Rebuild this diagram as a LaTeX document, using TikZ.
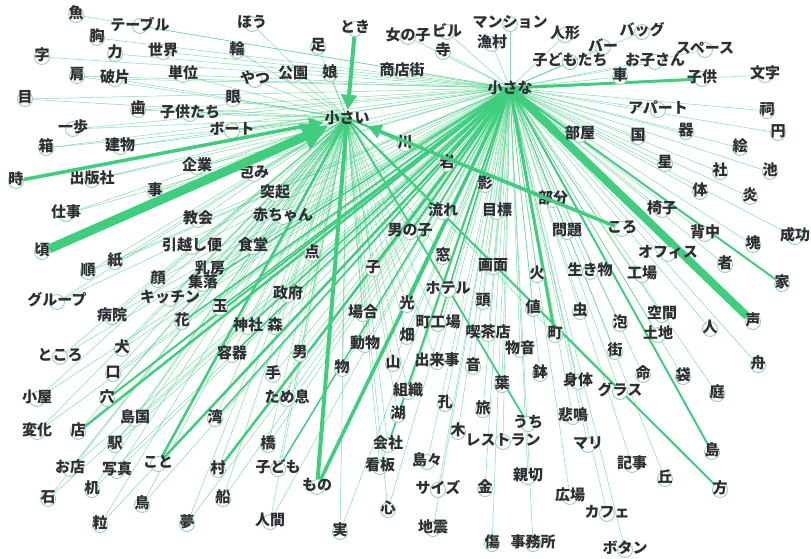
\documentclass[tikz,border=0pt]{standalone}
\usepackage{fontspec}
\setmainfont{Noto Sans CJK JP}
\usetikzlibrary{arrows.meta,backgrounds}
\definecolor{edgegreen}{RGB}{62,206,126}
\definecolor{dotline}{RGB}{150,210,172}
\definecolor{wordgray}{RGB}{45,47,53}
\tikzset{
  dot/.style={circle, draw=dotline, fill=white, line width=0.9pt, minimum size=15pt, inner sep=0pt},
  word/.style={text=wordgray, font=\fontsize{15}{15}\selectfont\bfseries, inner sep=0pt},
  hub/.style={word, inner sep=1pt},
  link/.style={edgegreen, line width=0.55pt, opacity=0.6},
  heavy/.style={edgegreen, line width=#1},
  tip/.style={-{Triangle[length=#1, width=#1]}},
}
\begin{document}
\begin{tikzpicture}[x=1pt, y=-1pt]
        \useasboundingbox (0,0) rectangle (811,558);
        \begin{scope}[on background layer]
        \fill[white] (0,0) rectangle (811,558);
        \end{scope}

        % the two adjectives
        \node[hub] (chiisai) at (347,118) {小さい};
        \node[hub] (chiisana) at (510,88) {小さな};

        % nouns
        \foreach \n/\x/\y/\w in {
            sakana/76/13/魚, teeburu/140/24/テーブル, mune/97/36/胸, hou/252/22/ほう,
            toki/355/27/とき, onnanoko/408/35/女の子, biru/447/30/ビル, manshon/510/22/マンション,
            tera/443/50/寺, gyoson/492/42/漁村, ningyou/565/33/人形, baggu/642/30/バッグ,
            baa/603/45/バー, supeesu/705/48/スペース, kodomotachiH/570/60/子どもたち, okosan/655/60/お子さん,
            moji/765/73/文字, kuruma/620/75/車, kodomoK/702/77/子供, ji/42/55/字,
            chikara/115/52/力, sekai/163/50/世界, wa/237/49/輪, ashi/318/45/足,
            kata/77/74/肩, hahen/115/77/破片, tani/183/73/単位, yatsu/255/78/やつ,
            kouen/293/73/公園, musume/330/72/娘, shoutengai/402/70/商店街, me/25/97/目,
            manako/233/97/眼, ha/138/108/歯, kodomotachiK/190/112/子供たち, apaato/658/108/アパート,
            hokora/767/109/祠, ippo/73/127/一歩, booto/232/129/ボート, en/778/131/円,
            utsuwa/686/130/器, heya/580/133/部屋, kuni/638/135/国, hako/46/146/箱,
            tatemono/120/145/建物, kawa/405/142/川, e/740/146/絵, tokiK/16/179/時,
            shuppansha/92/178/出版社, kigyou/197/165/企業, tsutsumi/254/172/包み, iwa/447/162/岩,
            hoshi/665/162/星, yashiro/720/170/社, ike/770/170/池, kotoK/155/190/事,
            tokki/275/192/突起, kage/485/183/影, bubun/553/198/部分, karada/700/190/体,
            honoo/750/195/炎, shigoto/66/212/仕事, kyoukai/198/218/教会, akachan/283/215/赤ちゃん,
            nagare/443/210/流れ, mokuhyou/497/210/目標, isu/662/208/椅子, koroH/622/227/ころ,
            seikou/795/235/成功, senaka/705/232/背中, katamari/753/243/塊, mondai/567/230/問題,
            otokonoko/410/230/男の子, koroK/42/250/頃, hikkoshi/192/245/引越し便, shokudou/253/245/食堂,
            ten/312/252/点, kami/115/260/紙, jun/88/270/順, nyuubou/210/268/乳房,
            kao/158/278/顔, shuuraku/203/282/集落, kicchin/170/297/キッチン, guruupu/57/300/グループ,
            tama/220/306/玉, seifu/288/293/政府, ko/373/267/子, mado/443/255/窓,
            gamen/493/265/画面, hi/537/273/火, ikimono/590/270/生き物, koujou/642/273/工場,
            ofisu/668/252/オフィス, sha/725/263/者, ie/782/282/家, hoteru/448/288/ホテル,
            atama/483/300/頭, atai/533/307/値, hikari/407/303/光, baai/363/312/場合,
            byouin/112/315/病院, hana/182/320/花, jinja/248/325/神社, mori/275/325/森,
            machikouba/438/322/町工場, kissaten/488/332/喫茶店, kuukan/662/313/空間, mushi/580/310/虫,
            awa/620/322/泡, hito/710/327/人, koe/753/320/声, tochi/658/333/土地,
            machi/555/333/町, gai/615/350/街, shuu/758/363/舟, tokoroH/60/355/ところ,
            inu/122/347/犬, youki/232/353/容器, hatake/407/335/畑, doubutsu/365/343/動物,
            monooto/520/348/物音, otoko/300/352/男, monoK/342/367/物, yama/393/362/山,
            dekigoto/437/360/出来事, oto/473/365/音, kuchi/113/372/口, hachi/540/372/鉢,
            shintai/578/380/身体, inochi/643/373/命, fukuro/683/375/袋, te/273/373/手,
            happa/502/383/葉, gurasu/620/390/グラス, niwa/717/392/庭, koya/37/397/小屋,
            ana/107/397/穴, tameiki/287/397/ため息, soshiki/408/390/組織, kou/445/402/孔,
            tabi/483/408/旅, uchi/528/422/うち, himei/573/415/悲鳴, shimaguni/135/417/島国,
            wan/215/417/湾, mizuumi/398/413/湖, henka/37/430/変化, mise/78/430/店,
            ki/458/430/木, resutoran/503/440/レストラン, kaisha/388/443/会社, hashi/268/443/橋,
            mari/588/443/マリ, shima/712/450/島, eki/115/443/駅, kotoH/158/462/こと,
            omise/70/467/お店, shashin/117/469/写真, mura/218/468/村, kodomoH/278/467/子ども,
            kanban/380/465/看板, shimajima/427/460/島々, shinsetsu/528/475/親切, kiji/632/463/記事,
            oka/665/477/丘, kataH/720/488/方, monoH/317/485/もの, saizu/438/488/サイズ,
            kane/485/487/金, ishi/48/497/石, tsukue/92/488/机, fune/223/497/船,
            tori/142/503/鳥, hiroba/570/495/広場, kokoro/388/508/心, kafe/607/512/カフェ,
            tsubu/100/523/粒, yume/187/522/夢, ningen/270/520/人間, mi/340/530/実,
            jishin/433/527/地震, kizu/492/542/傷, jimusho/533/542/事務所, botan/625/548/ボタン}
        {
            \node[dot] (\n) at (\x,\y+2) {};
            \node[word] at (\x,\y) {\w};
        }

        \begin{scope}[on background layer]
        % thin links
        \foreach \n in {sakana, teeburu, mune, ji, chikara, sekai, onnanoko, biru, manshon, tera, gyoson,
            ningyou, baggu, baa, supeesu, kodomotachiH, okosan, moji, kuruma, shoutengai, apaato, hokora,
            en, utsuwa, heya, kuni, e, hoshi, yashiro, ike, karada, honoo, seikou, isu, senaka, katamari,
            ofisu, sha, kuukan, hito, tochi, shuu, niwa, fukuro, inochi, gai, awa, mushi, kiji, oka, kafe,
            botan, hiroba, mari, himei, shintai, hachi, jimusho, kizu, shinsetsu, resutoran, kane, tabi,
            mokuhyou, gamen, hi, ikimono, koujou, mondai, kage, monooto, atai, atama, hoteru, kissaten,
            oto, happa, kou, ki, saizu, shimajima, jishin}
            \draw[link] (chiisana.center) -- (\n);
        \foreach \n in {ashi, musume, kouen, yatsu, hou, wa, manako, kawa, ten, akachan, tokki, tsutsumi}
            \draw[link] (chiisai.center) -- (\n);
        \foreach \n in {kata, hahen, tani, me, ha, kodomotachiK, ippo, booto, hako, tatemono, shuppansha,
            kigyou, kotoK, shigoto, kyoukai, hikkoshi, shokudou, kami, jun, nyuubou, kao, shuuraku, kicchin,
            guruupu, tama, seifu, ko, mado, nagare, otokonoko, iwa, bubun, hikari, baai, byouin, hana, jinja,
            mori, machikouba, tokoroH, inu, youki, hatake, doubutsu, otoko, monoK, yama, dekigoto, kuchi, te,
            gurasu, koya, ana, tameiki, soshiki, shimaguni, wan, mizuumi, henka, mise, kaisha, hashi, eki,
            omise, shashin, mura, kodomoH, kanban, ishi, tsukue, fune, tori, kokoro, tsubu, yume, ningen,
            mi, machi}
        {
            \draw[link] (chiisai.center) -- (\n);
            \draw[link] (chiisana.center) -- (\n);
        }

        % heavier links
        \foreach \n in {hana, tama, youki, wan, shuuraku, jinja, kodomoH, kaisha, hikari, machikouba}
            \draw[heavy=1.5pt] (chiisana.center) -- (\n);
        \draw[heavy=8pt] (chiisana.center) -- (koe);
        \draw[heavy=3pt] (chiisana.center) -- (kodomoK);
        \draw[heavy=3pt] (chiisana.center) -- (machi);
        \draw[heavy=2.5pt] (chiisana.center) -- (mura);
        \draw[heavy=2.5pt] (chiisana.center) -- (mise);
        \draw[heavy=2pt] (chiisana.center) -- (ana);
        \draw[heavy=2pt] (chiisana.center) -- (shima);
        \draw[heavy=2pt] (chiisana.center) -- (ie);
        \draw[heavy=1.8pt] (chiisana.center) -- (mizuumi);
        \draw[heavy=2pt] (chiisana.center) -- (otokonoko);
        \draw[heavy=2pt] (chiisana.center) -- (ko);
        \draw[heavy=3.5pt] (chiisana.center) -- (monoH);
        \draw[heavy=2.5pt] (chiisana.center) -- (kotoH);
        \draw[heavy=4pt] (chiisai.center) -- (monoH);
        \draw[heavy=2.5pt] (chiisai.center) -- (kotoH);
        \draw[heavy=2pt] (chiisai.center) -- (kataH);
        \draw[heavy=1.8pt] (chiisai.center) -- (uchi);
        \draw[heavy=2pt] (chiisai.center) -- (bubun);
        \end{scope}

        % links pointing at 小さい
        \draw[heavy=9pt, tip=26pt] (koroK) -- (chiisai);
        \draw[heavy=3.5pt, tip=14pt] (tokiK) -- (chiisai);
        \draw[heavy=4pt, tip=15pt] (toki) -- (chiisai);
        \draw[heavy=3.5pt, tip=14pt] (koroH) -- (chiisai);
\end{tikzpicture}
\end{document}
